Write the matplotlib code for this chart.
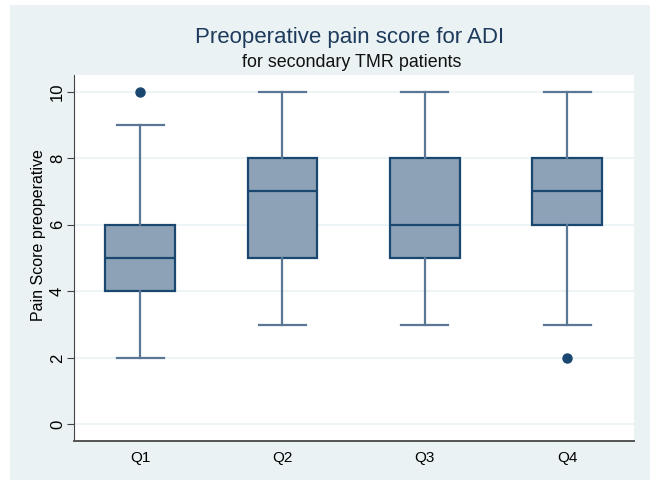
import numpy as np
import matplotlib.pyplot as plt
from matplotlib.patches import Rectangle

plt.rcParams['font.family'] = ['Liberation Sans', 'DejaVu Sans']

# box statistics
groups = ['Q1', 'Q2', 'Q3', 'Q4']
whisker_low = [2, 3, 3, 3]
quart_low = [4, 5, 5, 6]
medians = [5, 7, 6, 7]
quart_high = [6, 8, 8, 8]
whisker_high = [9, 10, 10, 10]
outliers = [[10], [], [], [2]]

bg = '#EAF2F3'
navy = '#1A476F'
whisk = '#5A7896'
fill = '#8DA2B6'

fig = plt.figure(figsize=(6.53, 4.8), dpi=100)
fig.patch.set_facecolor('white')
fig.patches.append(Rectangle((10/653, 0), 640/653, 475/480, transform=fig.transFigure,
                             facecolor=bg, edgecolor='none', zorder=-10))

ax = fig.add_axes([74/653, 39/480, 560/653, 366/480])
ax.set_facecolor('white')

stats = []
for i in range(len(groups)):
    stats.append({'whislo': whisker_low[i], 'q1': quart_low[i], 'med': medians[i],
                  'q3': quart_high[i], 'whishi': whisker_high[i], 'fliers': outliers[i],
                  'label': groups[i]})

ax.bxp(stats, positions=[1, 2, 3, 4], widths=0.49, patch_artist=True,
       boxprops=dict(facecolor=fill, edgecolor=navy, linewidth=1.6),
       medianprops=dict(color=navy, linewidth=1.6),
       whiskerprops=dict(color=whisk, linewidth=1.6),
       capprops=dict(color=whisk, linewidth=1.6),
       capwidths=0.33,
       flierprops=dict(marker='o', markerfacecolor=navy, markeredgecolor=navy, markersize=6.5))

ax.set_xlim(0.535, 4.47)
ax.set_ylim(-0.5, 10.5)
ax.set_yticks([0, 2, 4, 6, 8, 10])
ax.set_yticklabels(['0', '2', '4', '6', '8', '10'], rotation=90, va='center')
ax.grid(axis='y', color=bg, linewidth=1.2)
ax.set_axisbelow(True)
ax.tick_params(axis='y', length=5, color='#444444', labelsize=12, pad=1.5)
ax.tick_params(axis='x', length=0, labelsize=11, pad=7)

for side in ['top', 'right']:
    ax.spines[side].set_visible(False)
ax.spines['left'].set_color('#444444')
ax.spines['bottom'].set_color('#555555')
ax.spines['bottom'].set_linewidth(1.4)

ax.set_ylabel('Pain Score preoperative', fontsize=11.5)
ax.yaxis.set_label_coords(-0.05, 0.563)

fig.text(350/653, 1 - 37/480, 'Preoperative pain score for ADI', ha='center', va='center',
         fontsize=16, color='#1E3A5C')
fig.text(352/653, 1 - 62.5/480, 'for secondary TMR patients', ha='center', va='center',
         fontsize=12.9, color='#111111')

fig.savefig('out.png', dpi=100, facecolor=fig.get_facecolor())
